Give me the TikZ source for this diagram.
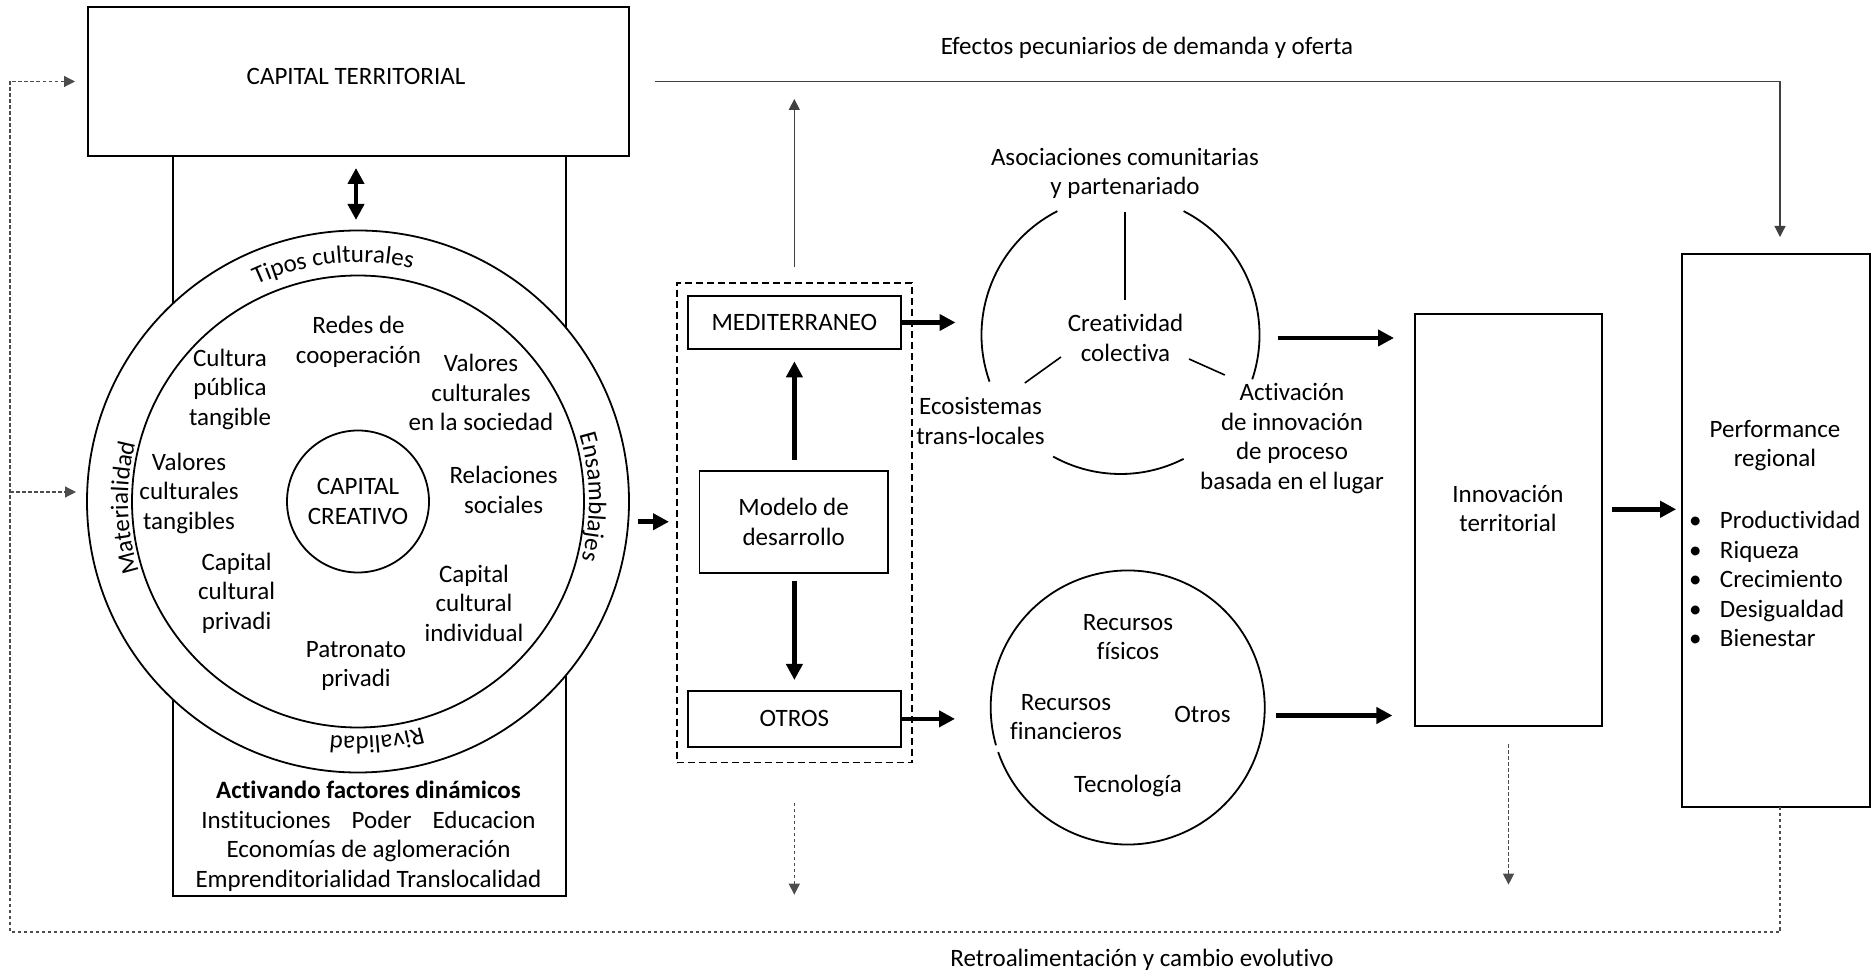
\documentclass[tikz,border=0pt]{standalone}
\usepackage{fontspec}
\setmainfont{Carlito}[Ligatures={NoCommon}]
\usetikzlibrary{arrows.meta,decorations.text,calc}
\newcommand\ringfont{\fontsize{25}{29.5}\selectfont}
\begin{document}
\begin{tikzpicture}[x=1pt,y=1pt,
  every node/.style={font=\ringfont, inner sep=0pt, outer sep=0pt, align=center},
  box/.style={draw, line width=1.8pt},
  ringc/.style={circle, draw, line width=1.8pt, fill=white},
  circ/.style={line width=1.8pt},
  spoke/.style={line width=1.6pt},
  dashbox/.style={draw, line width=1.8pt, dash pattern=on 7pt off 4pt},
  bigarrow/.style={line width=4.5pt, -{Triangle[length=16pt,width=16pt]}},
  dblarrow/.style={line width=4.5pt, {Triangle[length=16pt,width=16pt]}-{Triangle[length=16pt,width=16pt]}},
  thinline/.style={line width=1.2pt, black!75},
  thinarrow/.style={thinline, -{Triangle[length=11pt,width=11pt]}},
  fb/.style={line width=1.2pt, black!70, dash pattern=on 3.5pt off 2.5pt},
  fbarrow/.style={fb, -{Triangle[length=11pt,width=11pt]}},
  ringtext/.style={decorate, decoration={text along path, text align=center, text={#1}}}
]
\useasboundingbox (0,0) rectangle (1876,977);

% ---------- left block ----------
\node[box, minimum width=392.8pt, minimum height=739.7pt] (tall) at (369.2,451.2) {};
\node[box, fill=white, minimum width=541pt, minimum height=149pt] (ct) at (358.5,895.5) {};
\node (ctlbl) at (356,900.5) {CAPITAL TERRITORIAL};

\node[ringc, minimum size=542pt] (ring) at (358,475.5) {};
\node[ringc, minimum size=452pt] (iring) at (358,475.5) {};
\node[ringc, minimum size=142pt] (core) at (358,475.5) {CAPITAL\\CREATIVO};

\draw[dblarrow, shorten <=12pt, shorten >=10.5pt] ([xshift=-2.5pt]ct.south) -- ([xshift=-2.5pt]ct.south |- ring.north);

% ring texts
\path[ringtext={|\ringfont|Tipos culturales}] ([shift={(156:239pt)}]ring.center) arc[start angle=156, end angle=36, radius=239pt];
\path[ringtext={|\ringfont|Materialidad}] ([shift={(241.6:230pt)}]ring.center) arc[start angle=241.6, end angle=121.6, radius=230pt];
\path[ringtext={|\ringfont|Ensamblajes}] ([shift={(61.1:231pt)}]ring.center) arc[start angle=61.1, end angle=-58.9, radius=231pt];
\path[ringtext={|\ringfont|Rivalidad}] ([shift={(-25.5:235pt)}]ring.center) arc[start angle=-25.5, end angle=-145.5, radius=235pt];

% inner ring texts
\node (redes) at (358.5,635) {Redes de\\cooperación};
\node (cultura) at (230,588) {Cultura\\pública\\tangible};
\node (valsoc) at (481,584.5) {Valores\\culturales\\en la sociedad};
\node (valtan) at (189,484) {Valores\\culturales\\tangibles};
\node (relac) at (503.6,487) {Relaciones\\sociales};
\node (capriv) at (236.6,384) {Capital\\cultural\\privadi};
\node (capind) at (474,374) {Capital\\cultural\\individual};
\node (patron) at (356,311) {Patronato\\privadi};

\node (factors) at (368.5,141) {\textbf{Activando factores dinámicos}\\Instituciones\hspace{21pt}Poder\hspace{21pt}Educacion\\Economías de aglomeración\\Emprenditorialidad Translocalidad};

% ---------- middle dashed block ----------
\node[dashbox, minimum width=235.4pt, minimum height=479.6pt] (dbox) at (794.3,454.2) {};
\node[box, minimum width=213pt, minimum height=53.6pt] (med) at (794.4,654.5) {MEDITERRANEO};
\node[box, minimum width=188.4pt, minimum height=102pt] (modelo) at (793.6,455.25) {Modelo de\\desarrollo};
\node[box, minimum width=213pt, minimum height=55.8pt] (otros) at (794.4,258.1) {OTROS};

\draw[bigarrow, shorten <=11pt, shorten >=12pt] ([xshift=0.8pt]modelo.north) -- ([xshift=0.8pt]modelo.north |- med.south);
\draw[bigarrow, shorten <=8pt, shorten >=11pt] ([xshift=0.8pt]modelo.south) -- ([xshift=0.8pt]modelo.south |- otros.north);
\draw[bigarrow, shorten <=9pt, shorten >=7.6pt] (ring.east |- modelo) -- (dbox.west |- modelo);

% ---------- circles on the right ----------
\node[circle, minimum size=278pt] (tri) at (1120.5,642) {};
\draw[circ] ([shift={(117:139pt)}]tri.center) arc[start angle=117, end angle=199.6, radius=139pt];
\draw[circ] ([shift={(241:139pt)}]tri.center) arc[start angle=241, end angle=297, radius=139pt];
\draw[circ] ([shift={(341.4:139pt)}]tri.center) arc[start angle=341.4, end angle=423, radius=139pt];
\draw[spoke] (1125,765) -- (1125,677);
\draw[spoke] (1061,620) -- (1024.8,594);
\draw[spoke] (1189,618) -- (1224.8,602);

\node (asoc) at (1125,803.5) {Asociaciones comunitarias\\y partenariado};
\node (crea) at (1125.5,639) {Creatividad\\colectiva};
\node (ecos) at (980.5,556) {Ecosistemas\\trans-locales};
\node (activ) at (1292,538.5) {Activación\\de innovación\\de proceso\\basada en el lugar};

\node[circle, minimum size=274pt] (res) at (1127.7,269.5) {};
\draw[circ] ([shift={(199:137pt)}]res.center) arc[start angle=199, end angle=556, radius=137pt];
\node (recfis) at (1128,340) {Recursos\\físicos};
\node (recfin) at (1066,260) {Recursos\\financieros};
\node (otrosr) at (1202.5,263) {Otros};
\node (tecno) at (1128,191) {Tecnología};

\draw[bigarrow, shorten <=1.5pt, shorten >=26pt] (med.east) -- (med.east -| tri.west);
\draw[bigarrow, shorten <=1.5pt, shorten >=35.7pt] (otros.east) -- (otros.east -| res.west);

% ---------- right boxes ----------
\node[box, minimum width=187pt, minimum height=411.7pt] (innov) at (1508.5,456.9) {};
\node (innovlbl) at (1508,468.7) {Innovación\\territorial};
\node[box, minimum width=187.7pt, minimum height=553pt] (perf) at (1776,446.5) {};
\node (perflbl) at (1775,531.2) {Performance\\regional};
\node[anchor=west, align=left] (perflist) at (1689,398) {\makebox[31pt][l]{•}Productividad\\\makebox[31pt][l]{•}Riqueza\\\makebox[31pt][l]{•}Crecimiento\\\makebox[31pt][l]{•}Desigualdad\\\makebox[31pt][l]{•}Bienestar};

\draw[bigarrow, shorten <=18pt, shorten >=21pt] ([yshift=-3pt]tri.east) -- ([yshift=-3pt]tri.east -| innov.west);
\draw[bigarrow, shorten <=11pt, shorten >=22.6pt] ([yshift=-8pt]res.east) -- ([yshift=-8pt]res.east -| innov.west);
\draw[bigarrow, shorten <=10pt, shorten >=6pt] ([yshift=10.8pt]innov.east) -- ([yshift=10.8pt]innov.east -| perf.west);

% ---------- top connector ----------
\draw[thinarrow, shorten <=26pt, shorten >=17pt] (ct.east) -| ([xshift=4pt]perf.north);
\node (efectos) at (1147,929) {Efectos pecuniarios de demanda y oferta};
\draw[thinarrow, shorten <=16pt] (dbox.north) -- ++(0,184);

% ---------- feedback loop ----------
\coordinate (fbl) at (10,45);
\coordinate (fbm) at (10,485);
\draw[fbarrow, shorten >=13pt] ([xshift=4pt]perf.south) |- (fbl) |- (ct.west);
\draw[fbarrow, shorten >=11pt] (fbm) -- (fbm -| ring.west);
\draw[fbarrow, shorten <=18.5pt] (innov.south) -- ++(0,-158.7);
\draw[fbarrow, shorten <=40.4pt] (dbox.south) -- ++(0,-132.1);
\node (retro) at (1142,17.5) {Retroalimentación y cambio evolutivo};
\end{tikzpicture}
\end{document}
